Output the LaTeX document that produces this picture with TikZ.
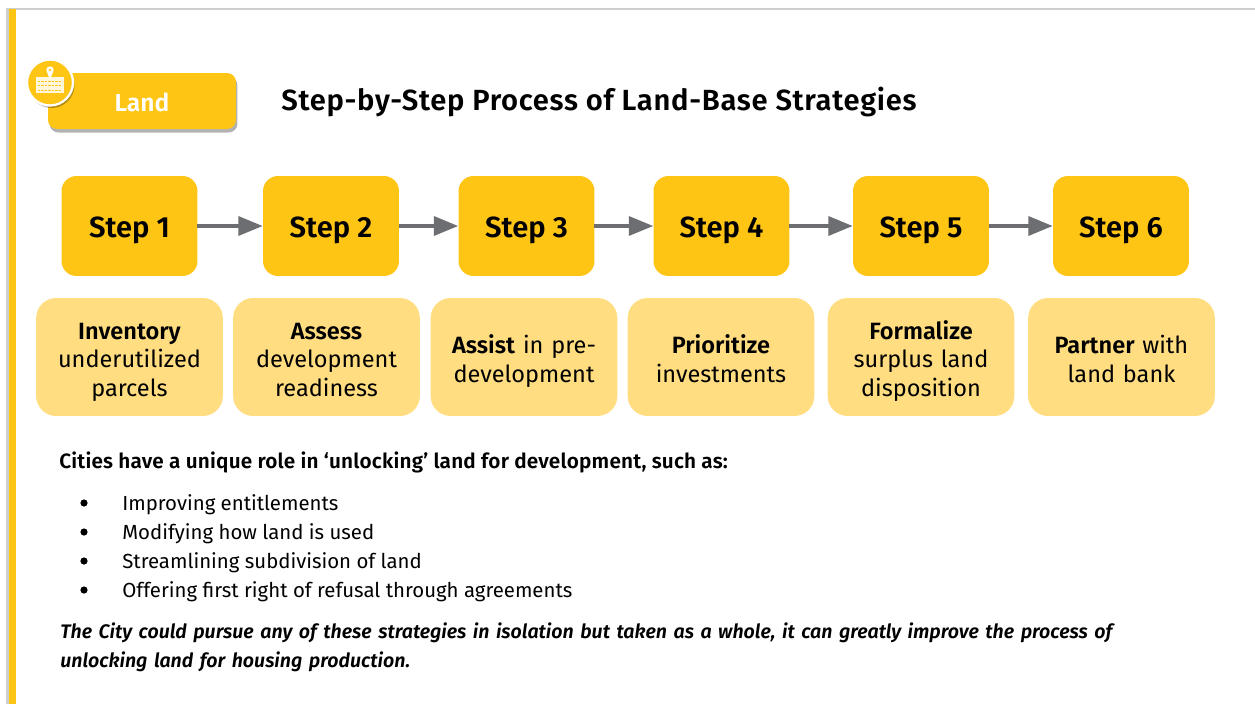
\documentclass[tikz,border=0pt]{standalone}
\usepackage{fontspec}
\setmainfont[BoldFont={Fira Sans SemiBold}, BoldItalicFont={Fira Sans SemiBold Italic}]{Fira Sans}
\usetikzlibrary{arrows.meta, positioning, shadows}
\definecolor{landyellow}{HTML}{FFC515}
\definecolor{paleyellow}{HTML}{FFDD80}
\definecolor{arrowgray}{HTML}{6D6E71}
\definecolor{framegray}{HTML}{CFCFCF}
\newcommand{\taildepth}{\rule[-3pt]{0pt}{3pt}}
\begin{document}
\begin{tikzpicture}[x=0.02cm, y=-0.02cm]
	\tikzstyle{Step} = [rectangle, rounded corners=0.3cm, outer sep=0pt, minimum width=2.72cm, minimum height=2cm, text centered, text height=12.7pt, text depth=0pt, fill=landyellow, font=\fontsize{16.6}{20}\selectfont\bfseries]
	\tikzstyle{Task} = [rectangle, rounded corners=0.4cm, minimum width=3.72cm, minimum height=2.36cm, text width=3.5cm, align=center, fill=paleyellow, font=\fontsize{13.4}{16.3}\selectfont, execute at begin node=\rule{0pt}{15.4pt}]
	\tikzstyle{arrow} = [line width=2.7pt, arrowgray, -{Triangle[length=14pt, width=10.5pt]}]
	\tikzstyle{Line} = [anchor=west, font=\fontsize{11.6}{14}\selectfont]
	\useasboundingbox (0,0) rectangle (1255,704);
	% page frame
	\fill [framegray] (6,8) rectangle (1255,10);
	\fill [framegray] (6,8) rectangle (9,704);
	\fill [landyellow] (9,9) rectangle (16,704);
	% header
	\node (land) [rectangle, rounded corners=0.18cm, minimum width=3.76cm, minimum height=1.12cm, text height=11.5pt, text depth=0pt, fill=landyellow, text=white, font=\fontsize{14}{16}\selectfont\bfseries, drop shadow={shadow xshift=0.03cm, shadow yshift=-0.07cm, opacity=0.3, fill=black}] at (142,101) {Land};
	\node (badge) [circle, minimum size=0.92cm, inner sep=0pt, fill=landyellow, draw=white, line width=1.3pt, drop shadow={shadow xshift=0.03cm, shadow yshift=-0.05cm, opacity=0.3, fill=black}] at (50,82.5) {};
	\fill [white!85!landyellow] (36,77) rectangle (63.5,93);
	\foreach \y in {81,85.5,90}
		\draw [landyellow, line width=0.5pt, dash pattern=on 1.5pt off 0.5pt] (37.5,\y) -- (62,\y);
	\fill [white] (50,80) -- (46.3,70) arc (180:360:3.7) -- cycle;
	\fill [landyellow] (50,70) circle (1.4);
	\node (title) [anchor=west, inner sep=0pt, font=\fontsize{16.6}{20}\selectfont\bfseries\addfontfeature{LetterSpace=2.4}] at (281,102) {Step-by-Step Process of Land-Base Strategies};
	% steps
	\node (s1) [Step] at (129.5,226) {Step 1};
	\node (s2) [Step] at (331,226) {Step 2};
	\node (s3) [Step] at (526.5,226) {Step 3};
	\node (s4) [Step] at (721.5,226) {Step 4};
	\node (s5) [Step] at (921,226) {Step 5};
	\node (s6) [Step] at (1121,226) {Step 6};
	\draw [arrow] (s1) -- (s2);
	\draw [arrow] (s2) -- (s3);
	\draw [arrow] (s3) -- (s4);
	\draw [arrow] (s4) -- (s5);
	\draw [arrow] (s5) -- (s6);
	% tasks
	\node (t1) [Task] at (129.5,357) {\textbf{Inventory}\\underutilized\\parcels\taildepth};
	\node (t2) [Task] at (326.5,357) {\textbf{Assess}\\development\\readiness\taildepth};
	\node (t3) [Task] at (524,357) {\textbf{Assist} in pre-\\development\taildepth};
	\node (t4) [Task] at (721,357) {\textbf{Prioritize}\\investments\taildepth};
	\node (t5) [Task] at (921,357) {\textbf{Formalize}\\surplus land\\disposition\taildepth};
	\node (t6) [Task] at (1121.5,357) {\textbf{Partner} with\\land bank\taildepth};
	% text
	\node (lead) [Line, inner sep=0pt, font=\fontsize{11.8}{14}\selectfont\bfseries\addfontfeature{LetterSpace=1}] at (59,462) {Cities have a unique role in ‘unlocking’ land for development, such as:};
	\foreach \y/\name/\txt in {505/b1/Improving entitlements, 534/b2/Modifying how land is used, 563/b3/Streamlining subdivision of land, 592/b4/Offering first right of refusal through agreements} {
		\fill [black] (84,\y-2) circle (3.6);
		\node (\name) [Line, inner sep=0pt] at (122,\y) {\txt};
	}
	\node (close) [anchor=north west, inner sep=0pt, text width=23cm, align=left, font=\fontsize{11.14}{17}\selectfont\bfseries\itshape] at (60,622) {The City could pursue any of these strategies in isolation but taken as a whole, it can greatly improve the process of\\unlocking land for housing production.};
\end{tikzpicture}
\end{document}
